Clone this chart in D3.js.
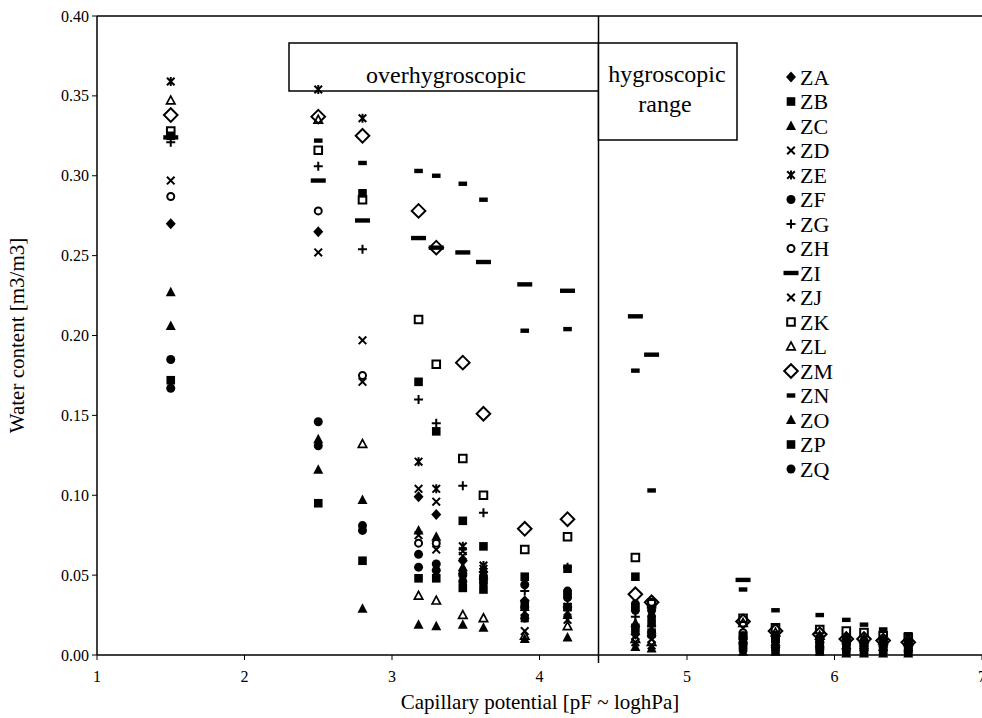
<!DOCTYPE html>
<html>
<head>
<meta charset="utf-8">
<script src="https://cdn.jsdelivr.net/npm/d3@7"></script>
<style>
  body { margin: 0; background: #fff; }
  svg { display: block; }
  text { font-family: "Liberation Serif", "Times New Roman", serif; fill: #000; }
</style>
</head>
<body>
<div id="chart"></div>
<script>
// pF columns (capillary potential)
const pF = [1.5, 2.5, 2.8, 3.18, 3.3, 3.48, 3.62, 3.9, 4.19, 4.65, 4.76, 5.38, 5.6, 5.9, 6.08, 6.2, 6.33, 6.5];

// water content per sample, null = not measured
const ZA = [0.270, 0.265, null, 0.099, 0.088, 0.059, 0.052, 0.034, 0.030, 0.013, 0.012, 0.008, 0.006, 0.005, 0.004, 0.004, 0.003, 0.003];
const ZB = [0.325, null, 0.289, 0.171, 0.140, 0.084, 0.068, 0.049, 0.054, 0.049, 0.020, 0.012, 0.010, 0.008, 0.008, 0.007, 0.007, 0.006];
const ZC = [0.227, 0.116, 0.029, 0.019, 0.018, 0.019, 0.017, 0.010, 0.011, 0.005, 0.004, 0.002, 0.002, 0.002, 0.001, 0.001, 0.001, 0.001];
const ZD = [0.297, 0.252, 0.197, 0.104, 0.096, 0.065, 0.054, 0.023, 0.030, 0.012, 0.010, 0.006, 0.005, 0.004, 0.004, 0.003, 0.003, 0.003];
const ZE = [0.359, 0.354, 0.336, 0.121, 0.104, 0.068, 0.056, 0.027, 0.027, 0.015, 0.013, 0.007, 0.006, 0.005, 0.005, 0.004, 0.004, 0.004];
const ZF = [0.185, 0.146, 0.081, 0.063, 0.057, 0.051, 0.049, 0.044, 0.040, 0.028, 0.024, 0.012, 0.011, 0.010, 0.009, 0.008, 0.008, 0.007];
const ZG = [0.321, 0.306, 0.254, 0.160, 0.145, 0.106, 0.089, 0.040, 0.055, 0.024, 0.018, 0.010, 0.009, 0.008, 0.007, 0.007, 0.006, 0.006];
const ZH = [0.287, 0.278, 0.175, 0.070, 0.070, 0.050, 0.047, 0.030, 0.038, 0.030, 0.033, 0.014, 0.012, 0.011, 0.010, 0.009, 0.009, 0.008];
const ZI = [0.324, 0.297, 0.272, 0.261, 0.255, 0.252, 0.246, 0.232, 0.228, 0.212, 0.188, 0.047, null, null, null, null, null, null];
const ZJ = [null, null, 0.171, 0.075, 0.066, 0.062, 0.052, 0.015, 0.022, 0.008, 0.006, 0.004, 0.003, 0.003, 0.002, 0.002, 0.002, 0.002];
const ZK = [0.328, 0.316, 0.285, 0.210, 0.182, 0.123, 0.100, 0.066, 0.074, 0.061, 0.032, 0.023, 0.017, 0.016, 0.015, 0.014, 0.012, 0.011];
const ZL = [0.347, 0.335, 0.132, 0.037, 0.034, 0.025, 0.023, 0.012, 0.018, 0.010, 0.008, 0.020, 0.014, 0.012, 0.011, 0.010, 0.009, 0.008];
const ZM = [0.338, 0.337, 0.325, 0.278, 0.255, 0.183, 0.151, 0.079, 0.085, 0.038, 0.033, 0.021, 0.015, 0.013, 0.010, 0.010, 0.009, 0.008];
const ZN = [null, 0.322, 0.308, 0.303, 0.300, 0.295, 0.285, 0.203, 0.204, 0.178, 0.103, 0.041, 0.028, 0.025, 0.022, 0.019, 0.016, 0.013];
const ZO = [0.206, 0.135, 0.097, 0.078, 0.074, 0.055, 0.050, 0.030, 0.025, 0.020, 0.016, 0.009, 0.007, 0.006, 0.006, 0.005, 0.005, 0.004];
const ZP = [0.172, 0.095, 0.059, 0.048, 0.048, 0.042, 0.041, 0.032, 0.030, 0.017, 0.014, 0.005, 0.004, 0.004, 0.003, 0.003, 0.003, 0.002];
const ZQ = [0.167, 0.131, 0.078, 0.055, 0.053, 0.046, 0.045, 0.023, 0.036, 0.032, 0.028, 0.011, 0.009, 0.008, 0.007, 0.006, 0.006, 0.005];

const seriesNames = ["ZA", "ZB", "ZC", "ZD", "ZE", "ZF", "ZG", "ZH", "ZI", "ZJ", "ZK", "ZL", "ZM", "ZN", "ZO", "ZP", "ZQ"];
const seriesValues = [ZA, ZB, ZC, ZD, ZE, ZF, ZG, ZH, ZI, ZJ, ZK, ZL, ZM, ZN, ZO, ZP, ZQ];
const seriesMarkers = ["diamond", "square", "triangle", "times", "star", "circle", "plus", "circleOpen",
  "longDash", "times", "squareOpen", "triangleOpen", "diamondOpen", "shortDash", "triangle", "square", "circle"];

const xTicks = [1, 2, 3, 4, 5, 6, 7];
const yTicks = [0, 0.05, 0.1, 0.15, 0.2, 0.25, 0.3, 0.35, 0.4];
const rangeBoundary = 4.4; // overhygroscopic | hygroscopic

const width = 982, height = 718;
const x = d3.scaleLinear().domain([1, 7]).range([97, 982]);
const y = d3.scaleLinear().domain([0, 0.4]).range([655, 16]);

const svg = d3.select("#chart").append("svg")
  .attr("width", width).attr("height", height);

// marker shapes, drawn around (0,0)
const markerPaths = {
  diamond: "M0,-5.5L5,0L0,5.5L-5,0Z",
  square: "M-4.3,-4.3H4.3V4.3H-4.3Z",
  triangle: "M0,-5.5L5,4L-5,4Z",
  times: "M-3.8,-3.8L3.8,3.8M-3.8,3.8L3.8,-3.8",
  star: "M-3.8,-3.8L3.8,3.8M-3.8,3.8L3.8,-3.8M0,-4.5V4.5",
  circle: "M4.5,0A4.5,4.5 0 1,1 -4.5,0A4.5,4.5 0 1,1 4.5,0Z",
  plus: "M-4.5,0H4.5M0,-4.5V4.5",
  circleOpen: "M3.5,0A3.5,3.5 0 1,1 -3.5,0A3.5,3.5 0 1,1 3.5,0Z",
  longDash: "M-7.5,-2.2H7.5V2.2H-7.5Z",
  squareOpen: "M-3.8,-3.8H3.8V3.8H-3.8Z",
  triangleOpen: "M0,-4.5L4.2,3.3L-4.2,3.3Z",
  diamondOpen: "M0,-6.8L6.8,0L0,6.8L-6.8,0Z",
  shortDash: "M-4.3,-2.2H4.3V2.2H-4.3Z"
};
const filled = new Set(["diamond", "square", "triangle", "circle", "longDash", "shortDash"]);

function drawMarker(g, type) {
  g.append("path")
    .attr("d", markerPaths[type])
    .attr("fill", filled.has(type) ? "#000" : "none")
    .attr("stroke", filled.has(type) ? "none" : "#000")
    .attr("stroke-width", type === "triangleOpen" ? 1.7 : 2);
}

// axes frame
const axisG = svg.append("g");
axisG.append("line")
  .attr("x1", x(1)).attr("x2", x(1)).attr("y1", y(0.4)).attr("y2", y(0))
  .attr("stroke", "#000").attr("stroke-width", 1.5);
axisG.append("line")
  .attr("x1", x(1)).attr("x2", width).attr("y1", y(0)).attr("y2", y(0))
  .attr("stroke", "#000").attr("stroke-width", 1.5);
axisG.append("line")
  .attr("x1", x(1)).attr("x2", width).attr("y1", y(0.4)).attr("y2", y(0.4))
  .attr("stroke", "#000").attr("stroke-width", 1.5);

axisG.selectAll(".ytick").data(yTicks).enter().append("line")
  .attr("x1", x(1) - 5).attr("x2", x(1))
  .attr("y1", (d) => y(d)).attr("y2", (d) => y(d))
  .attr("stroke", "#000").attr("stroke-width", 1);
axisG.selectAll(".ylab").data(yTicks).enter().append("text")
  .attr("x", x(1) - 8).attr("y", (d) => y(d)).attr("dy", "0.35em")
  .attr("text-anchor", "end").style("font-size", "16px")
  .text((d) => d3.format(".2f")(d));

axisG.selectAll(".xtick").data(xTicks).enter().append("line")
  .attr("x1", (d) => x(d)).attr("x2", (d) => x(d))
  .attr("y1", y(0)).attr("y2", y(0) + 5)
  .attr("stroke", "#000").attr("stroke-width", 1);
axisG.selectAll(".xlab").data(xTicks).enter().append("text")
  .attr("x", (d) => x(d)).attr("y", y(0) + 27)
  .attr("text-anchor", "middle").style("font-size", "16px")
  .text((d) => d);

// axis titles
svg.append("text")
  .attr("transform", `translate(24,${(y(0) + y(0.4)) / 2}) rotate(-90)`)
  .attr("text-anchor", "middle").style("font-size", "21px")
  .text("Water content [m3/m3]");
svg.append("text")
  .attr("x", 540).attr("y", 709)
  .attr("text-anchor", "middle").style("font-size", "21px")
  .text("Capillary potential [pF ~ loghPa]");

// range separator and label boxes
svg.append("line")
  .attr("x1", x(rangeBoundary)).attr("x2", x(rangeBoundary))
  .attr("y1", y(0.4)).attr("y2", y(0) + 8)
  .attr("stroke", "#000").attr("stroke-width", 1.5);

svg.append("rect")
  .attr("x", 289).attr("y", 43)
  .attr("width", x(rangeBoundary) - 289).attr("height", 48)
  .attr("fill", "#fff").attr("stroke", "#000").attr("stroke-width", 1.5);
svg.append("text")
  .attr("x", 446).attr("y", 83)
  .attr("text-anchor", "middle").style("font-size", "24px")
  .text("overhygroscopic");

svg.append("rect")
  .attr("x", x(rangeBoundary)).attr("y", 43)
  .attr("width", 737 - x(rangeBoundary)).attr("height", 97)
  .attr("fill", "#fff").attr("stroke", "#000").attr("stroke-width", 1.5);
svg.append("text")
  .attr("x", 667).attr("y", 82)
  .attr("text-anchor", "middle").style("font-size", "24px")
  .text("hygroscopic");
svg.append("text")
  .attr("x", 665).attr("y", 112)
  .attr("text-anchor", "middle").style("font-size", "24px")
  .text("range");

// points
const points = [];
seriesValues.forEach((vals, i) => {
  vals.forEach((v, j) => {
    if (v !== null) points.push({ s: i, x: pF[j], v: v });
  });
});

const pointG = svg.append("g");
pointG.selectAll("g").data(points).enter().append("g")
  .attr("transform", (d) => `translate(${x(d.x)},${y(d.v)})`)
  .each(function (d) {
    drawMarker(d3.select(this), seriesMarkers[d.s]);
  });

// legend
const legend = svg.append("g");
const legItems = legend.selectAll("g").data(seriesNames).enter().append("g")
  .attr("transform", (d, i) => `translate(791,${77 + i * 24.5})`);
legItems.each(function (d, i) {
  drawMarker(d3.select(this), seriesMarkers[i]);
});
legItems.append("text")
  .attr("x", 9).attr("dy", "0.35em")
  .style("font-size", "22px")
  .text((d) => d);
</script>
</body>
</html>
